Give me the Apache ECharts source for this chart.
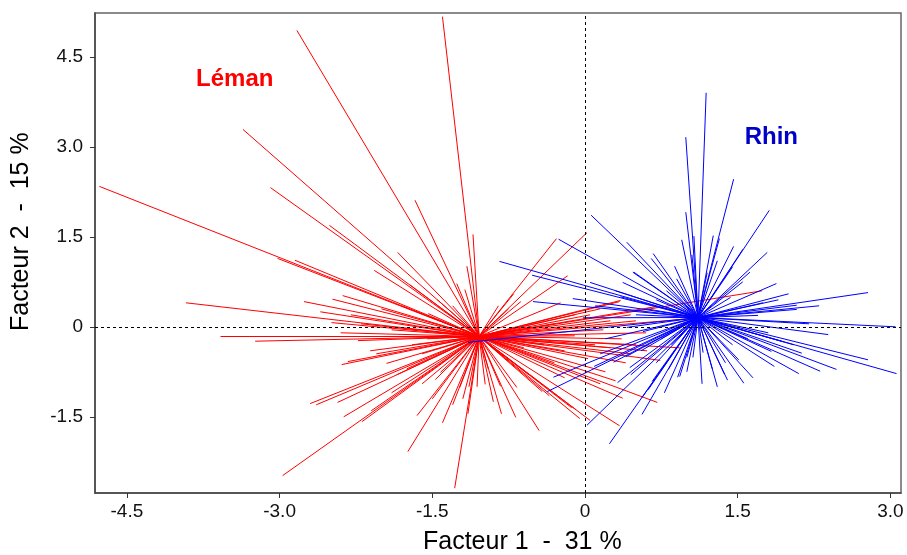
<!DOCTYPE html>
<html>
<head>
<meta charset="utf-8">
<script src="https://cdn.jsdelivr.net/npm/echarts@6/dist/echarts.min.js"></script>
<style>html,body{margin:0;padding:0;background:#fff}#c{width:907px;height:555px}</style>
</head>
<body>
<div id="c"></div>
<script>
// Group centres (Facteur 1, Facteur 2)
const lemanCenter = [-1.04, -0.16];
const rhinCenter = [1.11, 0.155];

// Léman individuals (end points of the star lines)
const lemanX = [-2.83,-1.40,-3.36,-4.77,-3.09,-1.67,-2.51,-1.84,-3.02,-2.85,-2.07,-1.10,-1.16,-1.26,-1.18,-3.92,-2.76,-2.48,-2.38,-2.49,
  -3.58,-3.24,-1.54,-1.72,-2.39,-2.33,-1.95,-2.11,-2.23,-2.70,-2.64,-2.43,-2.37,-2.19,-2.10,-2.97,-1.74,-1.65,-1.28,-1.47,
  -1.30,-1.42,-1.23,-1.14,-1.06,-0.82,-0.68,-0.45,-0.67,-0.83,-0.09,0.05,0.34,0.37,0.71,-0.42,-0.13,-0.05,0.03,0.74,
  0.93,0.61,0.36,0.18,0.34,1.74,1.21,0.71,0.35,-0.24,-0.63,-0.28,0.02,-0.17,-0.98,
  -2.30,-2.00,-1.80,-2.60,-1.90,-2.40,-1.70,-1.60,-1.85,-1.60,-1.90,-1.50,-1.40,-1.15,-0.90,-0.95,-0.80,-0.60,-0.30,-0.20,
  0.20,0.30,0.50,0.60,0.25,0.45,-0.10,-0.70,-0.85,-1.45,-1.30,0.05,0.50,-0.30,0.15,-0.10,0.10,0.25,-0.20,0.45,-0.40,
  -2.05,-1.75,-2.20,-1.55,0.40,0.15,-0.55,-0.35,-1.20,-0.75];
const lemanY = [4.94,5.17,3.29,2.34,2.32,2.11,1.69,1.24,1.14,1.11,0.94,1.54,1.01,0.72,0.62,0.40,0.42,0.46,0.52,0.07,
  -0.16,-0.24,0.22,0.70,-0.63,-0.58,-0.61,-0.40,-0.23,-1.28,-1.30,-1.26,-1.50,-1.58,-1.40,-2.48,-2.08,-1.48,-2.69,-0.88,
  -1.30,-0.76,-1.01,-1.00,-1.00,-1.45,-1.51,-1.73,-1.01,-0.99,-1.38,-1.56,-1.65,-1.19,-1.26,-1.08,-1.35,-1.53,-0.53,-0.56,
  -0.35,-0.40,-0.20,-0.05,0.42,0.60,0.16,0.34,0.44,0.40,0.42,1.47,1.57,0.85,-0.96,
  0.20,0.30,0.35,0.25,-0.05,-0.10,-0.30,-0.45,-0.80,-0.95,-1.10,-1.20,-1.60,-1.45,-1.25,-0.70,-0.50,-0.35,-0.60,-0.85,
  -0.75,-0.90,-0.30,-0.10,0.10,0.20,0.20,0.55,0.35,0.45,0.35,0.20,0.10,0.05,0.30,-0.15,-0.30,-0.35,-0.40,-0.45,-0.30,
  -0.45,-0.70,0.05,-0.20,-0.60,-0.95,-0.80,-1.15,-1.20,0.30];

// Rhin individuals
const rhinX = [1.19,0.99,1.46,1.81,0.99,1.79,0.06,0.41,-0.26,-0.84,0.67,0.65,1.26,1.07,1.32,1.46,0.88,0.48,1.55,1.62,
  0.37,1.88,1.43,2.78,2.08,2.08,1.70,3.05,2.39,2.78,3.06,2.47,2.31,2.10,1.86,2.13,1.83,1.56,1.40,1.51,
  1.37,1.16,1.06,0.91,0.82,0.66,0.56,0.32,0.24,0.02,0.56,-0.37,-0.31,-1.15,-0.51,-0.12,0.41,0.28,0.44,0.93,
  1.00,-0.52,0.05,-0.02,0.09,0.57,0.47,
  2.00,1.90,2.20,1.80,1.95,1.60,1.55,1.45,1.30,1.20,1.05,0.90,0.80,0.70,0.60,0.50,0.75,0.55,0.70,0.85,
  1.25,1.30,1.45,1.00,1.15,0.40,0.20,0.10,0.35,2.30,
  0.45,0.62,0.78,1.38,1.65,2.05,1.75,0.95,0.30,0.15];
const rhinY = [3.90,3.16,2.46,1.94,1.91,1.24,1.86,1.41,1.46,1.09,1.22,1.14,1.52,1.51,1.47,1.34,1.01,0.91,1.29,0.91,
  0.74,0.72,0.49,0.57,0.36,0.29,0.19,0.00,-0.13,-0.55,-0.78,-0.71,-0.74,-0.78,-0.66,-0.44,-0.41,-0.94,-0.89,-0.55,
  -0.79,-0.43,-0.51,-0.84,-0.71,-0.91,-1.18,-0.93,-1.95,-1.64,-1.46,-1.08,-0.84,-0.26,0.42,0.47,-0.01,-0.59,-0.68,-0.83,
  -0.51,0.86,0.74,0.15,-0.66,-0.08,0.91,
  0.55,0.45,0.05,-0.10,-0.25,-0.20,0.75,1.00,1.10,0.90,1.20,0.80,0.60,0.45,0.30,0.20,-0.20,-0.40,-0.60,-0.30,
  -0.70,-1.00,-0.30,-0.75,-0.95,-0.50,-0.20,0.35,0.50,0.35,
  -0.80,-1.05,-1.10,-0.60,-0.85,-0.30,0.40,1.45,0.60,-0.45];

const xTicks = [-4.5, -3.0, -1.5, 0, 1.5, 3.0];
const yTicks = [-1.5, 0, 1.5, 3.0, 4.5];

const groupLabels = [
  {name: 'Léman', pos: [-3.44, 4.12], color: '#ff0000'},
  {name: 'Rhin', pos: [1.83, 3.15], color: '#0000c8'}
];

function star(center, xs, ys) {
  return xs.map((x, i) => ({coords: [center, [x, ys[i]]]}));
}
const fmt = v => (Math.abs(v) < 1e-9 ? '0' : v.toFixed(1));
const FONT = '"Liberation Sans", Arial, sans-serif';

const chart = echarts.init(document.getElementById('c'), null, {renderer: 'canvas'});
chart.setOption({
  animation: false,
  backgroundColor: '#fff',
  grid: {left: 95, top: 13, right: 6, bottom: 62, show: true, borderColor: '#666', borderWidth: 1.5, backgroundColor: 'transparent'},
  xAxis: {
    type: 'value', min: -4.813, max: 3.104,
    axisLine: {show: true, onZero: false, lineStyle: {color: '#444', width: 1.5}},
    axisTick: {show: true, length: 5, customValues: xTicks, lineStyle: {color: '#333'}},
    axisLabel: {customValues: xTicks, formatter: fmt, color: '#111', fontSize: 19, fontFamily: FONT, margin: 9},
    splitLine: {show: false}
  },
  yAxis: {
    type: 'value', min: -2.77, max: 5.23,
    axisLine: {show: true, onZero: false, lineStyle: {color: '#444', width: 1.5}},
    axisTick: {show: true, length: 5, customValues: yTicks, lineStyle: {color: '#333'}},
    axisLabel: {customValues: yTicks, formatter: fmt, color: '#111', fontSize: 19, fontFamily: FONT, margin: 12},
    splitLine: {show: false}
  },
  series: [
    {
      type: 'lines', coordinateSystem: 'cartesian2d', silent: true, z: 2,
      lineStyle: {color: '#ff0000', width: 1, opacity: 1, curveness: 0},
      data: star(lemanCenter, lemanX, lemanY),
      markLine: {
        silent: true, symbol: ['none', 'none'], label: {show: false},
        lineStyle: {color: '#000', type: [3, 3], width: 1},
        data: [{xAxis: 0}, {yAxis: 0}]
      }
    },
    {
      type: 'lines', coordinateSystem: 'cartesian2d', silent: true, z: 3,
      lineStyle: {color: '#0000ff', width: 1, opacity: 1, curveness: 0},
      data: star(rhinCenter, rhinX, rhinY)
    },
    {
      type: 'scatter', silent: true, symbolSize: 0, z: 5,
      itemStyle: {opacity: 1},
      data: groupLabels.map(g => ({value: g.pos, label: {color: g.color}})),
      label: {
        show: true, position: 'inside', fontSize: 24, fontWeight: 'bold', fontFamily: FONT,
        opacity: 1, textBorderWidth: 0, textShadowBlur: 0,
        formatter: p => groupLabels[p.dataIndex].name
      }
    }
  ],
  graphic: [
    {type: 'text', left: 423, top: 530, style: {text: 'Facteur 1  -  31 %', font: '25px ' + FONT, fill: '#000'}},
    {type: 'text', x: 9, y: 331, rotation: Math.PI / 2, style: {text: 'Facteur 2  -  15 %', font: '25px ' + FONT, fill: '#000', textVerticalAlign: 'top'}}
  ]
});
</script>
</body>
</html>
